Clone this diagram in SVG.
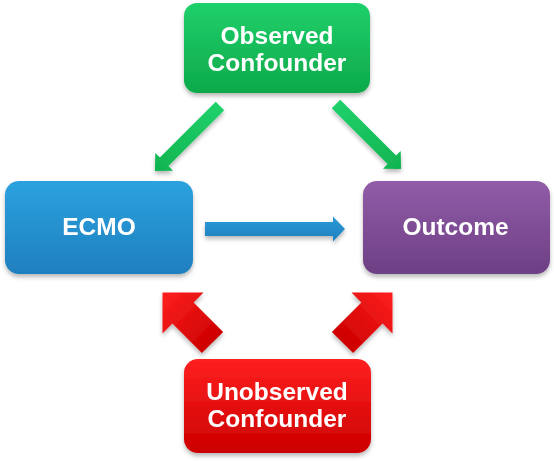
<svg xmlns="http://www.w3.org/2000/svg" width="554" height="461" viewBox="0 0 554 461">
<defs>
<linearGradient id="gGreen" x1="0" y1="0" x2="0" y2="1"><stop offset="0" stop-color="#1fd06a"/><stop offset="1" stop-color="#0da94a"/></linearGradient>
<linearGradient id="gBlue" x1="0" y1="0" x2="0" y2="1"><stop offset="0" stop-color="#2ca2de"/><stop offset="1" stop-color="#1f7fbf"/></linearGradient>
<linearGradient id="gPurple" x1="0" y1="0" x2="0" y2="1"><stop offset="0" stop-color="#915ca8"/><stop offset="1" stop-color="#6d3f84"/></linearGradient>
<linearGradient id="gRed" x1="0" y1="0" x2="0" y2="1"><stop offset="0" stop-color="#ff2020"/><stop offset="1" stop-color="#cc0000"/></linearGradient>
<linearGradient id="aGreen" x1="0" y1="0" x2="1" y2="0"><stop offset="0" stop-color="#20d06a"/><stop offset="1" stop-color="#10b450"/></linearGradient>
<linearGradient id="aBlue" x1="0" y1="0" x2="0" y2="1"><stop offset="0" stop-color="#2c9bd8"/><stop offset="1" stop-color="#1f7fbd"/></linearGradient>
<linearGradient id="aRed" x1="0" y1="0" x2="1" y2="0"><stop offset="0" stop-color="#cc0000"/><stop offset="1" stop-color="#ff2020"/></linearGradient>
<filter id="sh" x="-10%" y="-10%" width="120%" height="130%"><feDropShadow dx="0" dy="3" stdDeviation="2" flood-color="#000" flood-opacity="0.28"/></filter>
</defs>
<style>
.lbl{font-family:"Liberation Sans",Arial,sans-serif;font-weight:bold;font-size:24.5px;fill:#ffffff;text-anchor:middle}
</style>
<g id="connectors" filter="url(#sh)">
<path id="g-left" fill="url(#aGreen)" transform="translate(220,106) rotate(135)" d="M0,-6 L79,-6 L79,-12.5 L92,0 L79,12.5 L79,6 L0,6 Z"/>
<path id="g-right" fill="url(#aGreen)" transform="translate(336,104) rotate(45)" d="M0,-6 L79,-6 L79,-12.5 L92,0 L79,12.5 L79,6 L0,6 Z"/>
<path id="b-mid" fill="url(#aBlue)" d="M205,222 L333,222 L333,216.5 L345,229 L333,241.5 L333,236 L205,236 Z"/>
<path id="r-left" fill="url(#aRed)" transform="translate(212.5,342.5) rotate(225)" d="M0,-15 L41.7,-15 L41.7,-29 L70.7,0 L41.7,29 L41.7,15 L0,15 Z"/>
<path id="r-right" fill="url(#aRed)" transform="translate(342.5,342.5) rotate(-45)" d="M0,-15 L41.7,-15 L41.7,-29 L70.7,0 L41.7,29 L41.7,15 L0,15 Z"/>
</g>
<g id="observed">
<rect x="184" y="3" width="186" height="90" rx="13" fill="url(#gGreen)" filter="url(#sh)"/>
<text class="lbl" x="277" y="43.5">Observed</text>
<text class="lbl" x="277" y="70.5">Confounder</text>
</g>
<g id="ecmo">
<rect x="5" y="181" width="188" height="93" rx="14" fill="url(#gBlue)" filter="url(#sh)"/>
<text class="lbl" x="99" y="235">ECMO</text>
</g>
<g id="outcome">
<rect x="363" y="181" width="187" height="93" rx="14" fill="url(#gPurple)" filter="url(#sh)"/>
<text class="lbl" x="455.5" y="235">Outcome</text>
</g>
<g id="unobserved">
<rect x="184" y="359" width="187" height="94" rx="14" fill="url(#gRed)" filter="url(#sh)"/>
<text class="lbl" x="277" y="400">Unobserved</text>
<text class="lbl" x="277" y="427">Confounder</text>
</g>
</svg>
